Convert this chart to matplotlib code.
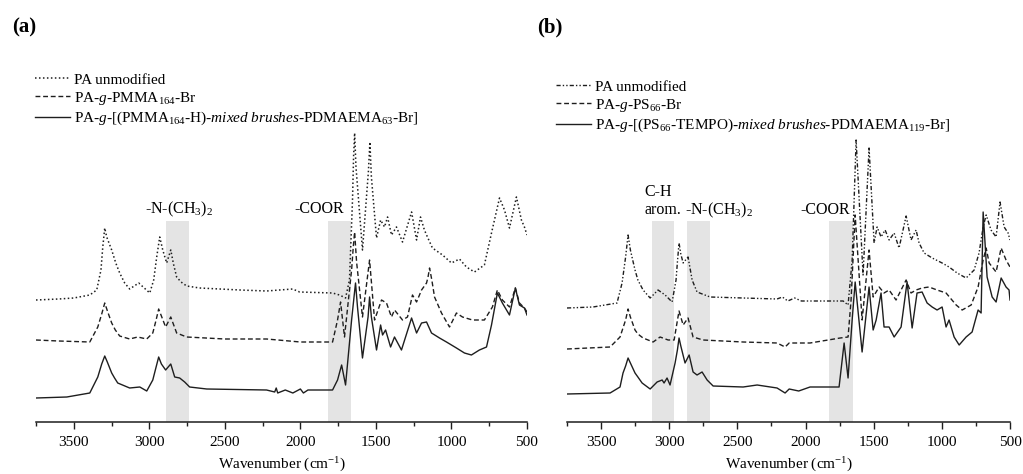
import matplotlib
matplotlib.use('Agg')
import matplotlib.pyplot as plt
from matplotlib.ticker import MultipleLocator

plt.rcParams['font.family'] = ['Liberation Serif', 'DejaVu Serif']
plt.rcParams['mathtext.fontset'] = 'custom'
plt.rcParams['mathtext.rm'] = 'Liberation Serif'
plt.rcParams['mathtext.it'] = 'Liberation Serif:italic'
plt.rcParams['mathtext.bf'] = 'Liberation Serif:bold'

# ---- panel (a): PMMA / PDMAEMA brushes (offset spectra, a.u.) ----
a_wn_pa = [3750, 3600, 3500, 3394, 3348, 3320, 3308, 3295, 3282, 3249, 3222, 3196, 3163, 3130,
           3070, 2997, 2971, 2951, 2931, 2911, 2885, 2858, 2840, 2819, 2790, 2753, 2667, 2400,
           2224, 2051, 2005, 1787, 1741, 1701, 1675, 1655, 1648, 1641, 1632, 1589, 1550, 1540,
           1530, 1496, 1469, 1443, 1423, 1397, 1364, 1324, 1264, 1231, 1205, 1179, 1159, 1126,
           1059, 1000, 947, 901, 848, 782, 735, 682, 649, 616, 570, 537, 517, 500]
a_abs_pa = [1.22, 1.23, 1.24, 1.27, 1.32, 1.52, 1.75, 1.94, 1.85, 1.72, 1.59, 1.49, 1.39, 1.33,
            1.39, 1.29, 1.42, 1.65, 1.85, 1.72, 1.59, 1.72, 1.58, 1.45, 1.40, 1.36, 1.34, 1.32,
            1.31, 1.33, 1.30, 1.29, 1.27, 1.24, 1.42, 2.22, 2.65, 2.89, 2.55, 1.72, 2.50, 2.80,
            2.45, 1.84, 2.02, 1.95, 2.05, 1.87, 1.95, 1.80, 2.10, 1.82, 2.05, 1.92, 1.85, 1.74,
            1.67, 1.59, 1.63, 1.55, 1.50, 1.57, 1.89, 2.24, 2.12, 1.94, 2.25, 2.02, 1.95, 1.87]

a_wn_pmma = [3750, 3600, 3394, 3341, 3315, 3295, 3275, 3249, 3225, 3196, 3130, 3077, 3017, 2977,
             2955, 2938, 2920, 2892, 2858, 2819, 2753, 2500, 2224, 2000, 1787, 1754, 1734, 1708,
             1661, 1650, 1641, 1628, 1589, 1542, 1509, 1463, 1430, 1397, 1377, 1324, 1291, 1258,
             1231, 1198, 1165, 1155, 1145, 1130, 1112, 1066, 1013, 967, 927, 861, 782, 729, 696,
             663, 616, 577, 550, 517, 500]
a_abs_pmma = [0.82, 0.81, 0.80, 0.95, 1.08, 1.19, 1.10, 0.99, 0.92, 0.86, 0.83, 0.85, 0.83, 0.89,
              1.02, 1.13, 1.06, 0.95, 1.05, 0.89, 0.85, 0.83, 0.83, 0.80, 0.80, 1.02, 1.20, 0.85,
              1.52, 1.75, 1.90, 1.60, 1.05, 1.62, 1.02, 1.22, 1.19, 1.05, 1.12, 1.02, 1.05, 1.27,
              1.20, 1.32, 1.39, 1.45, 1.54, 1.42, 1.25, 1.09, 0.95, 1.09, 1.05, 1.02, 1.02, 1.15, 1.32,
              1.22, 1.15, 1.34, 1.19, 1.14, 1.10]

a_wn_mix = [3750, 3546, 3394, 3341, 3315, 3295, 3278, 3249, 3230, 3209, 3130, 3063, 3017, 2977,
            2955, 2938, 2920, 2892, 2858, 2832, 2799, 2766, 2733, 2620, 2224, 2170, 2160, 2150,
            2100, 2050, 2000, 1980, 1950, 1787, 1754, 1727, 1701, 1661, 1645, 1635, 1622, 1589,
            1552, 1542, 1530, 1496, 1469, 1456, 1436, 1403, 1377, 1331, 1264, 1231, 1198, 1165,
            1132, 1079, 1033, 1000, 967, 914, 868, 815, 768, 735, 696, 663, 616, 577, 550, 517, 500]
a_abs_mix = [0.24, 0.25, 0.29, 0.45, 0.58, 0.66, 0.60, 0.49, 0.44, 0.39, 0.34, 0.35, 0.31, 0.42,
             0.55, 0.65, 0.58, 0.52, 0.58, 0.45, 0.44, 0.40, 0.35, 0.33, 0.32, 0.30, 0.34, 0.29,
             0.32, 0.29, 0.33, 0.29, 0.32, 0.32, 0.42, 0.57, 0.37, 1.02, 1.25, 1.39, 1.15, 0.64,
             1.05, 1.25, 1.05, 0.72, 0.97, 0.87, 0.92, 0.75, 0.85, 0.72, 1.04, 0.89, 0.99, 1.00,
             0.89, 0.84, 0.80, 0.77, 0.74, 0.69, 0.67, 0.72, 0.75, 0.97, 1.29, 1.19, 1.07, 1.34,
             1.17, 1.14, 1.07]

# ---- panel (b): PS / PDMAEMA brushes ----
b_wn_pa = [3750, 3559, 3383, 3346, 3320, 3302, 3285, 3251, 3230, 3192, 3140, 3082, 3030, 2979,
           2950, 2940, 2928, 2915, 2898, 2862, 2832, 2796, 2700, 2458, 2209, 2170, 2130, 2080,
           2030, 1967, 1724, 1688, 1658, 1629, 1578, 1534, 1497, 1475, 1446, 1416, 1387, 1350,
           1314, 1262, 1226, 1189, 1167, 1130, 1071, 998, 947, 888, 822, 763, 727, 697, 675, 639,
           602, 573, 543, 514, 500]
b_abs_pa = [1.14, 1.15, 1.19, 1.39, 1.65, 1.87, 1.72, 1.52, 1.42, 1.32, 1.24, 1.32, 1.27, 1.20,
            1.42, 1.60, 1.79, 1.68, 1.59, 1.65, 1.42, 1.30, 1.25, 1.24, 1.23, 1.25, 1.21, 1.24,
            1.21, 1.21, 1.21, 1.17, 1.62, 2.82, 1.47, 2.74, 1.79, 1.95, 1.85, 1.92, 1.82, 1.89,
            1.74, 2.06, 1.82, 1.92, 1.79, 1.69, 1.64, 1.59, 1.55, 1.49, 1.44, 1.52, 1.69, 1.95,
            2.07, 1.92, 1.85, 2.20, 1.95, 1.89, 1.82]

b_wn_ps = [3750, 3434, 3361, 3320, 3302, 3285, 3251, 3230, 3192, 3118, 3067, 3008, 2964, 2942,
           2928, 2898, 2862, 2825, 2752, 2458, 2209, 2150, 2120, 1967, 1746, 1688, 1666, 1636,
           1585, 1534, 1504, 1460, 1424, 1387, 1336, 1262, 1226, 1189, 1145, 1094, 1035, 969, 895,
           851, 785, 734, 697, 675, 653, 602, 565, 529, 500]
b_abs_ps = [0.73, 0.75, 0.85, 1.02, 1.13, 1.05, 0.92, 0.88, 0.84, 0.80, 0.85, 0.82, 0.82, 1.00,
            1.11, 0.97, 1.04, 0.85, 0.82, 0.80, 0.79, 0.75, 0.79, 0.79, 0.84, 0.85, 1.22, 2.07,
            1.02, 1.72, 1.25, 1.35, 1.29, 1.32, 1.22, 1.42, 1.29, 1.32, 1.34, 1.35, 1.32, 1.29, 1.17,
            1.12, 1.17, 1.35, 1.62, 1.74, 1.59, 1.50, 1.74, 1.62, 1.55]

b_wn_mix = [3750, 3434, 3361, 3339, 3320, 3302, 3285, 3251, 3230, 3199, 3140, 3089, 3052, 3038,
            3016, 2994, 2957, 2940, 2928, 2915, 2884, 2854, 2825, 2796, 2759, 2722, 2678, 2458,
            2355, 2209, 2150, 2120, 2050, 1967, 1754, 1717, 1688, 1658, 1636, 1585, 1534, 1504,
            1482, 1446, 1424, 1387, 1350, 1299, 1255, 1218, 1182, 1145, 1108, 1071, 1035, 998, 969,
            947, 910, 873, 822, 778, 734, 712, 697, 668, 631, 602, 565, 529, 507, 500]
b_abs_mix = [0.28, 0.29, 0.35, 0.49, 0.56, 0.64, 0.59, 0.49, 0.45, 0.39, 0.33, 0.40, 0.42, 0.39,
             0.44, 0.37, 0.59, 0.72, 0.84, 0.76, 0.59, 0.67, 0.50, 0.47, 0.50, 0.42, 0.36, 0.35,
             0.37, 0.34, 0.29, 0.33, 0.31, 0.35, 0.35, 0.79, 0.44, 1.02, 1.40, 0.70, 1.35, 0.92,
             1.02, 1.29, 0.95, 0.95, 0.85, 0.95, 1.40, 0.94, 1.29, 1.30, 1.19, 1.15, 1.12, 1.15,
             0.95, 1.02, 0.85, 0.77, 0.85, 0.90, 1.12, 1.09, 2.10, 1.45, 1.25, 1.20, 1.44, 1.35,
             1.32, 1.22]

a_labels = ['PA unmodified', 'PA-$g$-PMMA$_{164}$-Br',
            'PA-$g$-[(PMMA$_{164}$-H)-$\\mathit{mixed\\ brushes}$-PDMAEMA$_{63}$-Br]']
b_labels = ['PA unmodified', 'PA-$g$-PS$_{66}$-Br',
            'PA-$g$-[(PS$_{66}$-TEMPO)-$\\mathit{mixed\\ brushes}$-PDMAEMA$_{119}$-Br]']

a_bands = [(2890, 2740), (1820, 1668)]
b_bands = [(3130, 2965), (2870, 2700), (1825, 1655)]

W, H = 1023, 474
fig = plt.figure(figsize=(W / 100, H / 100), dpi=100)
ink = '#1e1e1e'
fs = 11


def make_ax(x0, x1):
    ax = fig.add_axes([x0 / W, (H - 422) / H, (x1 - x0) / W, (422 - 60) / H])
    ax.set_xlim(3750, 500)
    ax.set_ylim(0, 3.62)
    for s in ['top', 'left', 'right']:
        ax.spines[s].set_visible(False)
    ax.spines['bottom'].set_linewidth(1.1)
    ax.spines['bottom'].set_color(ink)
    ax.set_yticks([])
    ax.xaxis.set_major_locator(MultipleLocator(500))
    ax.xaxis.set_minor_locator(MultipleLocator(250))
    ax.tick_params(axis='x', which='major', length=5, width=1, direction='out', labelsize=fs, color=ink, pad=5)
    ax.tick_params(axis='x', which='minor', length=3, width=1, direction='out', color=ink)
    ax.set_xlabel('Wavenumber (cm$^{-1}$)', fontsize=fs, labelpad=5)
    ax.patch.set_alpha(0)
    return ax


axa = make_ax(36, 527)
axb = make_ax(567, 1010)

for lo, hi in a_bands:
    axa.axvspan(lo, hi, ymin=0, ymax=2.01 / 3.62, color='#e4e4e4', lw=0, zorder=0)
for lo, hi in b_bands:
    axb.axvspan(lo, hi, ymin=0, ymax=2.01 / 3.62, color='#e4e4e4', lw=0, zorder=0)

axa.plot(a_wn_pa, a_abs_pa, color=ink, lw=1.1, ls=(0, (1, 1.6)), label=a_labels[0])
axa.plot(a_wn_pmma, a_abs_pmma, color=ink, lw=1.0, ls=(0, (3.5, 2)), label=a_labels[1])
axa.plot(a_wn_mix, a_abs_mix, color=ink, lw=1.0, ls='-', label=a_labels[2])

axb.plot(b_wn_pa, b_abs_pa, color=ink, lw=1.0, ls=(0, (3, 1.5, 1, 1.5, 1, 1.5)), label=b_labels[0])
axb.plot(b_wn_ps, b_abs_ps, color=ink, lw=1.0, ls=(0, (3.5, 2)), label=b_labels[1])
axb.plot(b_wn_mix, b_abs_mix, color=ink, lw=1.0, ls='-', label=b_labels[2])

lfs = 11.5
axa.text(2800, 2.13, '-N-(CH$_3$)$_2$', fontsize=lfs, ha='center', va='center')
axa.text(1873, 2.13, '-COOR', fontsize=lfs, ha='center', va='center')
axb.text(3185, 2.30, 'C-H', fontsize=lfs, ha='left', va='center')
axb.text(3185, 2.12, 'arom.', fontsize=lfs, ha='left', va='center')
axb.text(2884, 2.12, '-N-(CH$_3$)$_2$', fontsize=lfs, ha='left', va='center')
axb.text(2040, 2.12, '-COOR', fontsize=lfs, ha='left', va='center')

for ax, x0, y0 in [(axa, 35, 73), (axb, 556, 80)]:
    ax.legend(loc='upper left', bbox_to_anchor=(x0 / W, 1 - y0 / H), bbox_transform=fig.transFigure,
              frameon=False, fontsize=fs, handlelength=2.3, handletextpad=0.25,
              labelspacing=0.2, borderpad=0, borderaxespad=0)

fig.text(12 / W, 1 - 27 / H, '(a)', fontsize=15, fontweight='bold', va='center', ha='left')
fig.text(537 / W, 1 - 27 / H, '(b)', fontsize=15, fontweight='bold', va='center', ha='left')

fig.savefig('out.png', dpi=100)
